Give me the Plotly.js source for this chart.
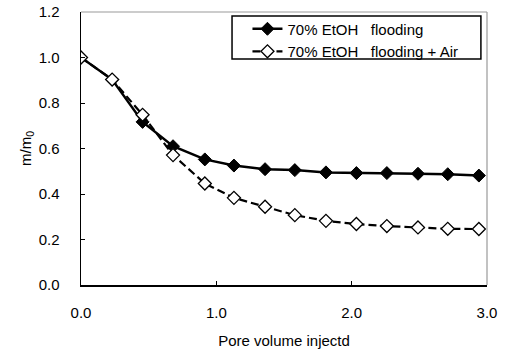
<!DOCTYPE html>
<html>
<head>
<meta charset="utf-8">
<script src="https://cdn.plot.ly/plotly-3.0.1.min.js"></script>
<style>html,body{margin:0;padding:0;background:#fff;}#chart{width:505px;height:349px;}</style>
</head>
<body>
<div id="chart"></div>
<script>
const poreVolume = [0.0, 0.23, 0.455, 0.68, 0.915, 1.13, 1.36, 1.58, 1.81, 2.035, 2.26, 2.49, 2.71, 2.94];
const flooding = [1.0, 0.903, 0.717, 0.610, 0.552, 0.525, 0.509, 0.505, 0.495, 0.492, 0.492, 0.489, 0.487, 0.481];
const floodingAir = [1.0, 0.903, 0.748, 0.571, 0.446, 0.383, 0.344, 0.307, 0.282, 0.268, 0.259, 0.253, 0.247, 0.246];
const seriesNames = ['70% EtOH\u00A0\u00A0 flooding', '70% EtOH\u00A0\u00A0 flooding + Air'];
const xTicks = [0, 1, 2, 3];
const xTickText = ['0.0', '1.0', '2.0', '3.0'];
const yTicks = [0, 0.2, 0.4, 0.6, 0.8, 1.0, 1.2];
const yTickText = ['0.0', '0.2', '0.4', '0.6', '0.8', '1.0', '1.2'];

const traces = [
  {x: poreVolume, y: flooding, name: seriesNames[0], mode: 'lines+markers',
   line: {color: '#000', width: 2.5},
   marker: {symbol: 'diamond', size: 10, color: '#000', line: {color: '#000', width: 1}}},
  {x: poreVolume, y: floodingAir, name: seriesNames[1], mode: 'lines+markers',
   line: {color: '#000', width: 2.2, dash: '8px,4px'},
   marker: {symbol: 'diamond', size: 10, color: '#fff', line: {color: '#000', width: 1.3}}}
];

const layout = {
  width: 505, height: 349,
  margin: {l: 81, r: 18, t: 12, b: 64},
  paper_bgcolor: '#fff', plot_bgcolor: '#fff',
  font: {family: 'Liberation Sans, Arial, sans-serif', size: 15, color: '#000'},
  showlegend: true,
  legend: {x: 0.41, y: 0.998, xanchor: 'left', yanchor: 'top',
    borderwidth: 0, bgcolor: 'rgba(0,0,0,0)',
    font: {size: 15}, tracegroupgap: 0, itemwidth: 30},
  xaxis: {range: [0, 3], tickvals: xTicks, ticktext: xTickText, ticks: 'inside', ticklen: 4,
    tickcolor: '#000', showline: true, linecolor: '#000', linewidth: 1.5, showgrid: false, zeroline: false,
    ticklabelstandoff: 13, tickfont: {size: 15},
    title: {text: 'Pore volume injectd', standoff: 17, font: {size: 15}}},
  yaxis: {range: [0, 1.2], tickvals: yTicks, ticktext: yTickText, ticks: 'inside', ticklen: 4,
    tickcolor: '#000', showline: true, linecolor: '#000', linewidth: 1.5, showgrid: false, zeroline: false,
    ticklabelstandoff: 17, tickfont: {size: 15},
    title: {text: 'm/m<sub>0</sub>', standoff: 3, font: {size: 15}}},
  shapes: [
    {type: 'line', xref: 'paper', yref: 'paper', x0: 0, x1: 1, y0: 1, y1: 1, line: {color: '#999', width: 1.2}},
    {type: 'line', xref: 'paper', yref: 'paper', x0: 1, x1: 1, y0: 0, y1: 1, line: {color: '#999', width: 1.2}},
    {type: 'rect', xref: 'paper', yref: 'paper', x0: 0.372, x1: 0.985, y0: 0.828, y1: 0.985,
     line: {color: '#000', width: 1.5}, fillcolor: '#fff', layer: 'below'}
  ]
};

Plotly.newPlot('chart', traces, layout, {displayModeBar: false, staticPlot: true});
</script>
</body>
</html>
